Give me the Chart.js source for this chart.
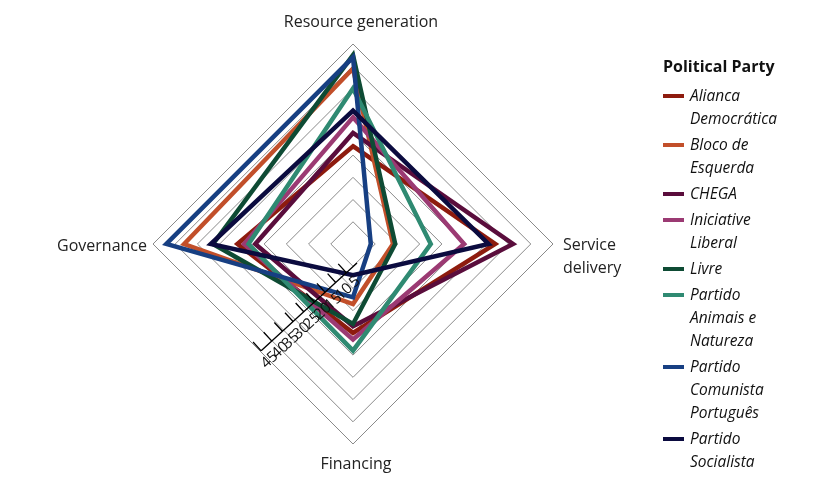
<!DOCTYPE html>
<html>
<head>
<meta charset="utf-8">
<title>Political Party radar</title>
<script src="https://cdn.jsdelivr.net/npm/chart.js@4.4.1/dist/chart.umd.min.js"></script>
<style>
  html, body { margin: 0; padding: 0; background: #fff; }
  #wrap { position: relative; width: 815px; height: 496px; }
  #legend {
    position: absolute; left: 663px; top: 54px;
    font-family: 'Open Sans', sans-serif; color: #111;
  }
  #legend .title { font-weight: 700; font-size: 16px; line-height: 24px; margin-bottom: 6px; }
  #legend .item { display: flex; align-items: flex-start; margin-bottom: 3px; }
  #legend .swatch { width: 21px; height: 4px; margin-top: 10px; margin-right: 6px; flex: none; }
  #legend .text { font-style: italic; font-size: 15.5px; line-height: 23px; width: 100px; }
</style>
</head>
<body>
<div id="wrap">
  <canvas id="radarChart" width="815" height="496"></canvas>
  <div id="legend"></div>
</div>
<script>
// axes, clockwise from the top
var categories = [['Resource generation'], ['Service', 'delivery'], ['Financing'], ['Governance']];
var tickValues = [5, 10, 15, 20, 25, 30, 35, 40, 45];

var parties = ['Alianca Democrática', 'Bloco de Esquerda', 'CHEGA', 'Iniciative Liberal',
               'Livre', 'Partido Animais e Natureza', 'Partido Comunista Português', 'Partido Socialista'];

// values: Resource generation, Service delivery, Financing, Governance
var aliancaDemocratica = [22, 32, 20, 26];
var blocoEsquerda      = [39.5, 9, 13.5, 38];
var chega              = [25, 36, 18.5, 22];
var iniciativeLiberal  = [28.5, 25, 21.5, 24.5];
var livre              = [42.5, 9.5, 18, 31.5];
var partidoAnimais     = [35, 17.5, 24, 23.5];
var partidoComunista   = [42, 4, 12, 42];
var partidoSocialista  = [30, 30.5, 7, 32];

var seriesValues = [aliancaDemocratica, blocoEsquerda, chega, iniciativeLiberal,
                    livre, partidoAnimais, partidoComunista, partidoSocialista];
var colors = ['#8e1b0e', '#c24f2a', '#5a0d3c', '#9b3a73', '#0e4b34', '#2f8a72', '#173f82', '#0b0b3f'];

var FONT = "'Open Sans', sans-serif";

// point labels drawn by hand so they don't shrink the radar
var axisLabels = {
  id: 'axisLabels',
  afterDraw: function(chart) {
    var s = chart.scales.r, ctx = chart.ctx;
    var cx = s.xCenter, cy = s.yCenter, r = s.drawingArea;
    ctx.save();
    ctx.fillStyle = '#222';
    ctx.font = '16px ' + FONT;
    ctx.textBaseline = 'middle';
    ctx.textAlign = 'center';
    ctx.fillText(categories[0][0], cx + 8, cy - r - 22);
    ctx.fillText(categories[2][0], cx + 3, cy + r + 20);
    ctx.textAlign = 'left';
    categories[1].forEach(function(line, i) {
      ctx.fillText(line, cx + r + 10, cy + 1 + i * 23);
    });
    ctx.textAlign = 'right';
    ctx.fillText(categories[3][0], cx - r - 6, cy + 2);
    ctx.restore();
  }
};

// the diagonal value axis in the lower left
var tickAxis = {
  id: 'tickAxis',
  afterDatasetsDraw: function(chart) {
    var s = chart.scales.r, ctx = chart.ctx;
    var ox = s.xCenter + 4, oy = s.yCenter + 19;
    var ang = 137.5 * Math.PI / 180;
    var dx = Math.cos(ang), dy = Math.sin(ang);
    var px = -dy, py = dx;
    var k = 0.65;
    var end = s.getDistanceFromCenterForValue(45) * k;
    ctx.save();
    ctx.strokeStyle = '#000';
    ctx.lineWidth = 1.3;
    ctx.beginPath();
    ctx.moveTo(ox, oy);
    ctx.lineTo(ox + dx * end, oy + dy * end);
    tickValues.forEach(function(v) {
      var d = s.getDistanceFromCenterForValue(v) * k;
      var x = ox + dx * d, y = oy + dy * d;
      ctx.moveTo(x, y);
      ctx.lineTo(x + px * 12, y + py * 12);
    });
    ctx.stroke();
    ctx.fillStyle = '#111';
    ctx.font = '15px ' + FONT;
    ctx.textAlign = 'center';
    ctx.textBaseline = 'top';
    tickValues.forEach(function(v) {
      var d = s.getDistanceFromCenterForValue(v) * k;
      ctx.save();
      ctx.translate(ox + dx * d, oy + dy * d);
      ctx.rotate(ang - Math.PI);
      ctx.fillText(String(v), 0, 5);
      ctx.restore();
    });
    ctx.restore();
  }
};

var ctx = document.getElementById('radarChart').getContext('2d');
var radarChart = new Chart(ctx, {
  type: 'radar',
  data: {
    labels: categories,
    datasets: seriesValues.map(function(vals, i) {
      return {
        label: parties[i],
        data: vals,
        borderColor: colors[i],
        backgroundColor: 'rgba(0,0,0,0)',
        borderWidth: 4.5,
        pointRadius: 0,
        fill: false,
        tension: 0,
        borderJoinStyle: 'miter',
        order: seriesValues.length - i
      };
    })
  },
  options: {
    responsive: false,
    animation: false,
    layout: { padding: { left: 57, right: 165, top: 44, bottom: 52 } },
    plugins: { legend: { display: false }, tooltip: { enabled: false } },
    scales: {
      r: {
        min: 0,
        max: 45,
        ticks: { display: false, stepSize: 5 },
        grid: { circular: false, color: '#8a8a8a', lineWidth: 1 },
        angleLines: { display: false },
        pointLabels: { display: false }
      }
    }
  },
  plugins: [axisLabels, tickAxis]
});

// legend
var legend = document.getElementById('legend');
var html = '<div class="title">Political Party</div>';
parties.forEach(function(p, i) {
  html += '<div class="item"><span class="swatch" style="background:' + colors[i] + '"></span>' +
          '<span class="text">' + p + '</span></div>';
});
legend.innerHTML = html;
</script>
</body>
</html>
